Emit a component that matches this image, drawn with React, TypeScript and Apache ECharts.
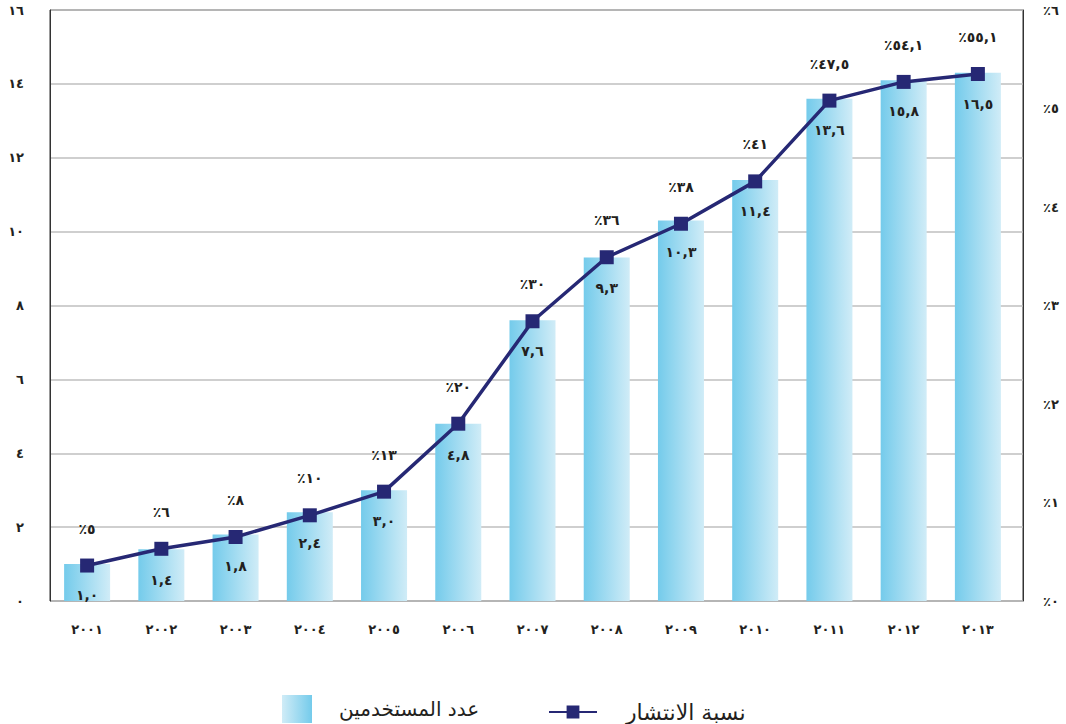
import React, { useEffect, useRef } from "react";
import * as echarts from "echarts";

const years = ["٢٠٠١", "٢٠٠٢", "٢٠٠٣", "٢٠٠٤", "٢٠٠٥", "٢٠٠٦", "٢٠٠٧", "٢٠٠٨", "٢٠٠٩", "٢٠١٠", "٢٠١١", "٢٠١٢", "٢٠١٣"];
// bar heights as drawn (millions of users)
const users = [1.0, 1.4, 1.8, 2.4, 3.0, 4.8, 7.6, 9.3, 10.3, 11.4, 13.6, 14.1, 14.3];
const userLabels = ["١,٠", "١,٤", "١,٨", "٢,٤", "٣,٠", "٤,٨", "٧,٦", "٩,٣", "١٠,٣", "١١,٤", "١٣,٦", "١٥,٨", "١٦,٥"];
// penetration line as drawn on the right axis (0..6)
const penetration = [0.36, 0.53, 0.65, 0.87, 1.11, 1.8, 2.84, 3.49, 3.83, 4.26, 5.08, 5.27, 5.35];
const penetrationLabels = ["٪٥", "٪٦", "٪٨", "٪١٠", "٪١٣", "٪٢٠", "٪٣٠", "٪٣٦", "٪٣٨", "٪٤١", "٪٤٧,٥", "٪٥٤,١", "٪٥٥,١"];
const leftTicks = ["٠", "٢", "٤", "٦", "٨", "١٠", "١٢", "١٤", "١٦"];
const rightTicks = ["٪٠", "٪١", "٪٢", "٪٣", "٪٤", "٪٥", "٪٦"];
const seriesNames = ["عدد المستخدمين", "نسبة الانتشار"];

const FONT = "DejaVu Sans";
const TEXT = "#231f20";

export default function App() {
  const ref = useRef<HTMLDivElement>(null);
  useEffect(() => {
    if (!ref.current) return;
    const chart = echarts.init(ref.current, undefined, { renderer: "svg" });
    const barGrad = new echarts.graphic.LinearGradient(0, 0, 1, 0, [
      { offset: 0, color: "#74cbeb" },
      { offset: 1, color: "#d0ecf7" },
    ]);
    const legendGrad = new echarts.graphic.LinearGradient(0, 0, 1, 0, [
      { offset: 0, color: "#d0ecf7" },
      { offset: 1, color: "#74cbeb" },
    ]);
    const gridPos = { left: 50, top: 10, bottom: 123 };
    const labelFont = { fontFamily: FONT, fontSize: 14, fontWeight: "bold" as const, color: TEXT };
    chart.setOption({
      animation: false,
      backgroundColor: "#ffffff",
      grid: [
        { ...gridPos, right: 43, show: true, borderColor: "#333333", borderWidth: 1, backgroundColor: "transparent" },
        { ...gridPos, width: 965, show: false },
      ],
      xAxis: [
        { type: "category", gridIndex: 0, data: years, show: false },
        {
          type: "category",
          gridIndex: 1,
          data: years,
          axisLine: { show: false },
          axisTick: { show: false },
          axisLabel: { margin: 22, fontFamily: FONT, fontSize: 13, fontWeight: "bold", color: TEXT },
        },
      ],
      yAxis: [
        {
          type: "value",
          gridIndex: 0,
          position: "left",
          min: 0,
          max: 16,
          interval: 2,
          axisLine: { show: true, lineStyle: { color: "#333333" } },
          axisTick: { show: false },
          splitLine: { show: true, lineStyle: { color: "#bfbfbf", width: 1.5 } },
          axisLabel: {
            margin: 26,
            fontFamily: FONT,
            fontSize: 13,
            fontWeight: "bold",
            color: TEXT,
            formatter: (v: number) => leftTicks[Math.round(v / 2)] ?? "",
          },
        },
        {
          type: "value",
          gridIndex: 0,
          position: "right",
          min: 0,
          max: 6,
          interval: 1,
          axisLine: { show: true, lineStyle: { color: "#333333" } },
          axisTick: { show: false },
          splitLine: { show: false },
          axisLabel: {
            margin: 20,
            fontFamily: FONT,
            fontSize: 13,
            fontWeight: "bold",
            color: TEXT,
            formatter: (v: number) => rightTicks[Math.round(v)] ?? "",
          },
        },
        { type: "value", gridIndex: 1, min: 0, max: 16, interval: 2, show: false, splitLine: { show: false } },
        { type: "value", gridIndex: 1, min: 0, max: 6, interval: 1, show: false, splitLine: { show: false } },
      ],
      legend: [
        {
          data: [{ name: seriesNames[0], icon: "rect", itemStyle: { color: legendGrad } }],
          left: 277,
          top: 690,
          itemWidth: 30,
          itemHeight: 28,
          selectedMode: false,
          textStyle: { fontFamily: FONT, fontSize: 20, color: TEXT, padding: [0, 0, 0, 22] },
        },
        {
          data: [seriesNames[1]],
          left: 543,
          top: 696,
          itemWidth: 48,
          itemHeight: 16,
          selectedMode: false,
          textStyle: { fontFamily: FONT, fontSize: 22, color: TEXT, padding: [0, 0, 0, 24] },
        },
      ],
      series: [
        {
          name: seriesNames[0],
          type: "bar",
          xAxisIndex: 1,
          yAxisIndex: 2,
          data: users,
          barWidth: 46,
          itemStyle: { color: barGrad },
          label: {
            show: true,
            position: "insideTop",
            distance: 24,
            ...labelFont,
            formatter: (p: any) => userLabels[p.dataIndex],
          },
        },
        {
          name: seriesNames[1],
          type: "line",
          xAxisIndex: 1,
          yAxisIndex: 3,
          data: penetration,
          symbol: "rect",
          symbolSize: 14,
          z: 3,
          lineStyle: { color: "#262874", width: 3.5 },
          itemStyle: { color: "#262874" },
          label: {
            show: true,
            position: "top",
            distance: 23,
            ...labelFont,
            formatter: (p: any) => penetrationLabels[p.dataIndex],
          },
        },
      ],
    });
    return () => chart.dispose();
  }, []);
  return (
    <div
      ref={ref}
      style={{ position: "absolute", left: 0, top: 0, width: 1066, height: 724, background: "#fff" }}
    />
  );
}
